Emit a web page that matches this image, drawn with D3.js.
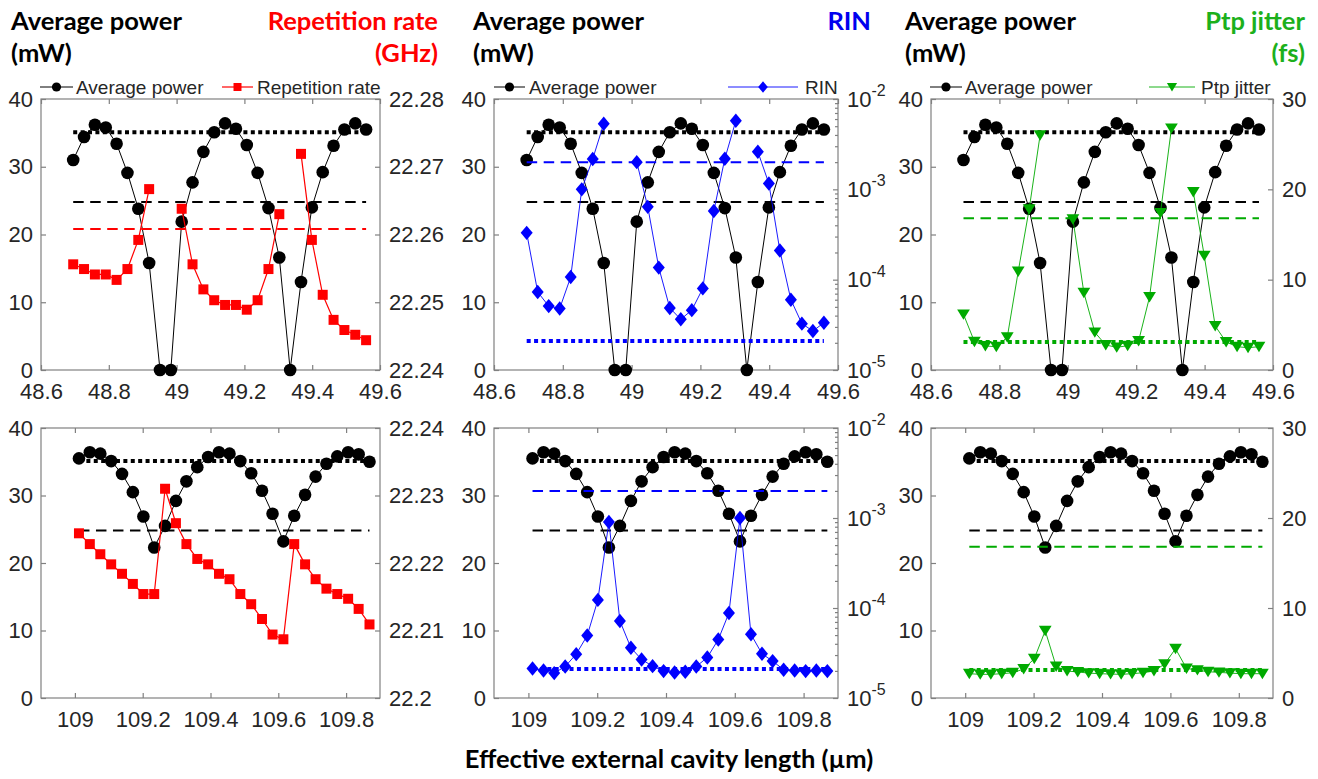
<!DOCTYPE html>
<html>
<head>
<meta charset="utf-8">
<script src="https://cdn.jsdelivr.net/npm/d3@7/dist/d3.min.js"></script>
<style>
  html, body { margin: 0; padding: 0; background: #fff; }
  svg { display: block; }
  .tick text { font-family: "Liberation Sans", Arial, sans-serif; font-size: 22px; fill: #262626; }
  .title { font-family: Lato, "Open Sans", sans-serif; font-weight: 700; font-size: 25.5px; }
  .legend text { font-family: "Liberation Sans", Arial, sans-serif; font-size: 19px; fill: #262626; }
</style>
</head>
<body>
<svg id="chart" width="1318" height="779"></svg>
<script>
// ---- data -------------------------------------------------------------
const xTop = [48.695, 48.727, 48.759, 48.791, 48.823, 48.855, 48.887, 48.919, 48.951, 48.983,
  49.015, 49.047, 49.079, 49.111, 49.143, 49.175, 49.207, 49.239, 49.271, 49.303,
  49.335, 49.367, 49.399, 49.431, 49.463, 49.495, 49.527, 49.559];
const xBottom = [109.012, 109.044, 109.075, 109.107, 109.139, 109.171, 109.202, 109.234, 109.266, 109.298,
  109.329, 109.361, 109.393, 109.425, 109.456, 109.488, 109.520, 109.552, 109.583, 109.615,
  109.647, 109.679, 109.710, 109.742, 109.774, 109.806, 109.837, 109.869];

// average power (mW)
const powerTop = [31.0, 34.4, 36.2, 35.8, 33.4, 29.1, 23.8, 15.8, 0, 0, 21.9, 27.7, 32.2, 35.1,
  36.4, 35.6, 33.2, 29.1, 23.9, 16.6, 0, 13.0, 24.0, 29.2, 33.1, 35.5, 36.4, 35.5];
const powerBottom = [35.5, 36.4, 36.2, 35.1, 33.2, 30.5, 26.9, 22.3, 25.5, 29.2, 32.1, 34.2, 35.7, 36.4,
  36.2, 35.1, 33.3, 30.7, 27.3, 23.2, 27.0, 30.1, 32.8, 34.7, 35.8, 36.4, 36.1, 35.0];

// repetition rate (GHz); null where the laser is off
const repRateTop = [22.2556, 22.2549, 22.2541, 22.2541, 22.2533, 22.2549, 22.2592, 22.2667, null, null,
  22.2638, 22.2556, 22.2519, 22.2503, 22.2496, 22.2496, 22.2489, 22.2503, 22.2549, 22.2630,
  null, 22.2719, 22.2592, 22.2511, 22.2474, 22.2459, 22.2452, 22.2444];
const repRateBottom = [22.2244, 22.2228, 22.2213, 22.2198, 22.2184, 22.2169, 22.2154, 22.2154, 22.2310, 22.2259,
  22.2228, 22.2206, 22.2198, 22.2184, 22.2176, 22.2154, 22.2139, 22.2117, 22.2094, 22.2087,
  22.2228, 22.2198, 22.2176, 22.2162, 22.2154, 22.2147, 22.2132, 22.2109];

// relative intensity noise
const rinTop = [3.3e-4, 7.3e-5, 5.1e-5, 4.8e-5, 1.07e-4, 1.0e-3, 2.17e-3, 5.33e-3, null, null,
  2.0e-3, 6.4e-4, 1.36e-4, 4.86e-5, 3.64e-5, 4.6e-5, 8.0e-5, 5.75e-4, 2.18e-3, 5.75e-3,
  null, 2.61e-3, 1.16e-3, 2.1e-4, 6.0e-5, 3.26e-5, 2.7e-5, 3.34e-5];
const rinBottom = [2.13e-5, 2.02e-5, 1.89e-5, 2.24e-5, 3.07e-5, 4.94e-5, 1.23e-4, 9.03e-4, 7.18e-5, 3.61e-5,
  2.68e-5, 2.26e-5, 1.99e-5, 1.92e-5, 1.96e-5, 2.24e-5, 2.82e-5, 4.46e-5, 8.8e-5, 1.0e-3,
  5.1e-5, 3.1e-5, 2.57e-5, 2.06e-5, 2.02e-5, 1.99e-5, 2.02e-5, 1.99e-5];

// peak-to-peak timing jitter (fs)
const jitterTop = [6.16, 3.14, 2.66, 2.58, 3.62, 10.9, 17.8, 26.0, null, null,
  16.7, 8.56, 4.17, 2.77, 2.51, 2.69, 3.21, 8.08, 17.4, 26.75,
  null, 19.7, 12.66, 4.87, 3.10, 2.58, 2.47, 2.58];
const jitterBottom = [2.70, 2.63, 2.63, 2.70, 2.81, 3.22, 4.37, 7.47, 3.51, 3.0,
  2.89, 2.77, 2.70, 2.66, 2.63, 2.70, 2.81, 3.0, 3.77, 5.48,
  3.29, 3.1, 2.92, 2.85, 2.77, 2.70, 2.70, 2.70];

// reference levels
const powerDotted = 35.1, powerDashed = 24.8;
const repRateDashed = 22.2608;
const rinDashed = 2e-3, rinDotted = 2.1e-5;
const jitterDashed = 16.8, jitterDotted = 3.1;

// ticks
const xTicksTop = [48.6, 48.8, 49, 49.2, 49.4, 49.6];
const xTicksBottom = [109, 109.2, 109.4, 109.6, 109.8];
const powerTicks = [0, 10, 20, 30, 40];
const repRateTicksTop = [22.24, 22.25, 22.26, 22.27, 22.28];
const repRateTicksBottom = [22.2, 22.21, 22.22, 22.23, 22.24];
const rinTicks = [1e-5, 1e-4, 1e-3, 1e-2];
const jitterTicks = [0, 10, 20, 30];

// ---- layout -----------------------------------------------------------
const svg = d3.select("#chart");
svg.append("rect").attr("width", 1318).attr("height", 779).attr("fill", "#fff");

const cols = [
  { left: 41, right: 380, titleL: 11, titleR: 438 },
  { left: 494, right: 838, titleL: 473, titleR: 871 },
  { left: 931, right: 1273, titleL: 905, titleR: 1305 }
];
const rows = [
  { top: 99, bottom: 370, xDomain: [48.6, 49.6], xTicks: xTicksTop, xs: xTop, power: powerTop },
  { top: 428, bottom: 698, xDomain: [108.9, 109.9], xTicks: xTicksBottom, xs: xBottom, power: powerBottom }
];

const RED = "#ff0000", BLUE = "#0000ff", GREEN = "#00aa00", AXIS = "#808080";

const kinds = [
  { name: "Repetition rate", color: RED, titleColor: "#ff0000", title: ["Repetition rate", "(GHz)"], marker: "square",
    series: [repRateTop, repRateBottom], domains: [[22.24, 22.28], [22.2, 22.24]],
    ticks: [repRateTicksTop, repRateTicksBottom], dashed: [repRateDashed, repRateDashed], dotted: [null, null],
    lineWidth: 1.2 },
  { name: "RIN", color: BLUE, titleColor: "#0000ee", title: ["RIN"], marker: "diamond", log: true,
    series: [rinTop, rinBottom], domains: [[1e-5, 1e-2], [1e-5, 1e-2]],
    ticks: [rinTicks, rinTicks], dashed: [rinDashed, rinDashed], dotted: [rinDotted, rinDotted],
    lineWidth: 0.9 },
  { name: "Ptp jitter", color: GREEN, titleColor: "#1cb01c", title: ["Ptp jitter", "(fs)"], marker: "triangle",
    series: [jitterTop, jitterBottom], domains: [[0, 30], [0, 30]],
    ticks: [jitterTicks, jitterTicks], dashed: [jitterDashed, jitterDashed], dotted: [jitterDotted, jitterDotted],
    lineWidth: 0.9 }
];

// marker shapes centred on (0,0)
function markerPath(kind, s) {
  if (kind === "square") return `M${-s},${-s}H${s}V${s}H${-s}Z`;
  if (kind === "diamond") return `M0,${-s * 1.2}L${s},0L0,${s * 1.2}L${-s},0Z`;
  if (kind === "triangle") return `M${-s * 1.1},${-s * 0.85}H${s * 1.1}L0,${s * 0.95}Z`;
  return "";
}
const markerSize = { square: 5, diamond: 6, triangle: 5.8 };

function fmtNum(d) { return String(+d.toFixed(2)); }

function drawPanel(row, col, kind, ri) {
  const g = svg.append("g");
  const x = d3.scaleLinear().domain(row.xDomain).range([col.left, col.right]);
  const yL = d3.scaleLinear().domain([0, 40]).range([row.bottom, row.top]);
  const yR = (kind.log ? d3.scaleLog() : d3.scaleLinear())
    .domain(kind.domains[ri]).range([row.bottom, row.top]);

  // frame
  g.append("rect").attr("x", col.left).attr("y", row.top)
    .attr("width", col.right - col.left).attr("height", row.bottom - row.top)
    .attr("fill", "none").attr("stroke", AXIS).attr("stroke-width", 1.2);

  // axes
  const styleAxis = sel => { sel.select(".domain").remove(); sel.selectAll(".tick line").attr("stroke", AXIS).attr("stroke-width", 1.2); };
  g.append("g").attr("transform", `translate(0,${row.bottom})`)
    .call(d3.axisBottom(x).tickValues(row.xTicks).tickSize(-5).tickPadding(13).tickFormat(fmtNum))
    .call(styleAxis);
  g.append("g").attr("transform", `translate(0,${row.top})`)
    .call(d3.axisTop(x).tickValues(row.xTicks).tickSize(-5).tickFormat(""))
    .call(styleAxis);
  g.append("g").attr("transform", `translate(${col.left},0)`)
    .call(d3.axisLeft(yL).tickValues(powerTicks).tickSize(-5).tickPadding(8))
    .call(styleAxis);

  const rAxis = g.append("g").attr("transform", `translate(${col.right},0)`);
  if (kind.log) {
    const minor = [];
    for (let e = -5; e < -2; e++) for (let m = 2; m <= 9; m++) minor.push(m * Math.pow(10, e));
    rAxis.append("g").call(d3.axisRight(yR).tickValues(minor).tickSize(-3).tickFormat("")).call(styleAxis);
    const major = rAxis.append("g")
      .call(d3.axisRight(yR).tickValues(kind.ticks[ri]).tickSize(-5).tickPadding(9).tickFormat(""))
      .call(styleAxis);
    major.selectAll(".tick text").each(function (d) {
      const t = d3.select(this);
      t.text("10");
      t.append("tspan").attr("dy", "-0.65em").attr("font-size", "16px").text(String(Math.round(Math.log10(d))));
    });
  } else {
    rAxis.call(d3.axisRight(yR).tickValues(kind.ticks[ri]).tickSize(-5).tickPadding(9).tickFormat(fmtNum))
      .call(styleAxis);
  }

  const x0 = x(row.xs[0]), x1 = x(row.xs[row.xs.length - 1]);
  const hline = (y, color, dash, w) => g.append("line")
    .attr("x1", x0).attr("x2", x1).attr("y1", y).attr("y2", y)
    .attr("stroke", color).attr("stroke-width", w).attr("stroke-dasharray", dash);

  // reference levels for power
  hline(yL(powerDotted), "#000", "4 3.4", 4);
  hline(yL(powerDashed), "#000", "10.5 6.5", 2);

  // power series
  const pts = row.xs.map((xv, i) => ({ x: xv, y: row.power[i] }));
  g.append("path").datum(pts)
    .attr("d", d3.line().x(d => x(d.x)).y(d => yL(d.y)))
    .attr("fill", "none").attr("stroke", "#000").attr("stroke-width", 1);
  g.selectAll(".pdot").data(pts).enter().append("circle")
    .attr("cx", d => x(d.x)).attr("cy", d => yL(d.y)).attr("r", 6.3).attr("fill", "#000");

  // reference levels for right-axis quantity (only those inside the axis range)
  const [dmin, dmax] = kind.domains[ri];
  const dv = kind.dashed[ri], tv = kind.dotted[ri];
  if (dv != null && dv >= dmin && dv <= dmax) hline(yR(dv), kind.color, "10.5 6.5", 2);
  if (tv != null && tv >= dmin && tv <= dmax) hline(yR(tv), kind.color, "4 3.4", 4);

  // right-axis series
  const rpts = row.xs.map((xv, i) => ({ x: xv, y: kind.series[ri][i] }));
  g.append("path").datum(rpts)
    .attr("d", d3.line().defined(d => d.y != null).x(d => x(d.x)).y(d => yR(d.y)))
    .attr("fill", "none").attr("stroke", kind.color).attr("stroke-width", kind.lineWidth);
  g.selectAll(".rdot").data(rpts.filter(d => d.y != null)).enter().append("path")
    .attr("transform", d => `translate(${x(d.x)},${yR(d.y)})`)
    .attr("d", markerPath(kind.marker, markerSize[kind.marker]))
    .attr("fill", kind.color);
}

rows.forEach((row, ri) => cols.forEach((col, ci) => drawPanel(row, col, kinds[ci], ri)));

// ---- titles and legends -----------------------------------------------
cols.forEach((col, ci) => {
  const kind = kinds[ci];
  svg.append("text").attr("class", "title").attr("x", col.titleL).attr("y", 30).text("Average power");
  svg.append("text").attr("class", "title").attr("x", col.titleL).attr("y", 62).text("(mW)");
  kind.title.forEach((t, k) => svg.append("text").attr("class", "title")
    .attr("x", col.titleR).attr("y", 30 + 32 * k).attr("text-anchor", "end")
    .attr("fill", kind.titleColor).text(t));
});

const legends = [
  { p: [40, 73, 76], r: [222, 253, 257] },
  { p: [494, 525, 529], r: [728, 798, 805] },
  { p: [930, 962, 965], r: [1149, 1195, 1201] }
];
const legendY = 87;
legends.forEach((lg, ci) => {
  const kind = kinds[ci];
  const g = svg.append("g").attr("class", "legend");
  g.append("line").attr("x1", lg.p[0]).attr("x2", lg.p[1]).attr("y1", legendY).attr("y2", legendY)
    .attr("stroke", "#000").attr("stroke-width", 1);
  g.append("circle").attr("cx", (lg.p[0] + lg.p[1]) / 2).attr("cy", legendY).attr("r", 4.6).attr("fill", "#000");
  g.append("text").attr("x", lg.p[2]).attr("y", legendY).attr("dy", "0.35em").text("Average power");
  g.append("line").attr("x1", lg.r[0]).attr("x2", lg.r[1]).attr("y1", legendY).attr("y2", legendY)
    .attr("stroke", kind.color).attr("stroke-width", kind.lineWidth);
  g.append("path").attr("transform", `translate(${(lg.r[0] + lg.r[1]) / 2},${legendY})`)
    .attr("d", markerPath(kind.marker, markerSize[kind.marker] * 0.8)).attr("fill", kind.color);
  g.append("text").attr("x", lg.r[2]).attr("y", legendY).attr("dy", "0.35em").text(kind.name);
});

svg.append("text").attr("class", "title").attr("x", 669).attr("y", 768).attr("text-anchor", "middle")
  .text("Effective external cavity length (\u00b5m)");
</script>
</body>
</html>
